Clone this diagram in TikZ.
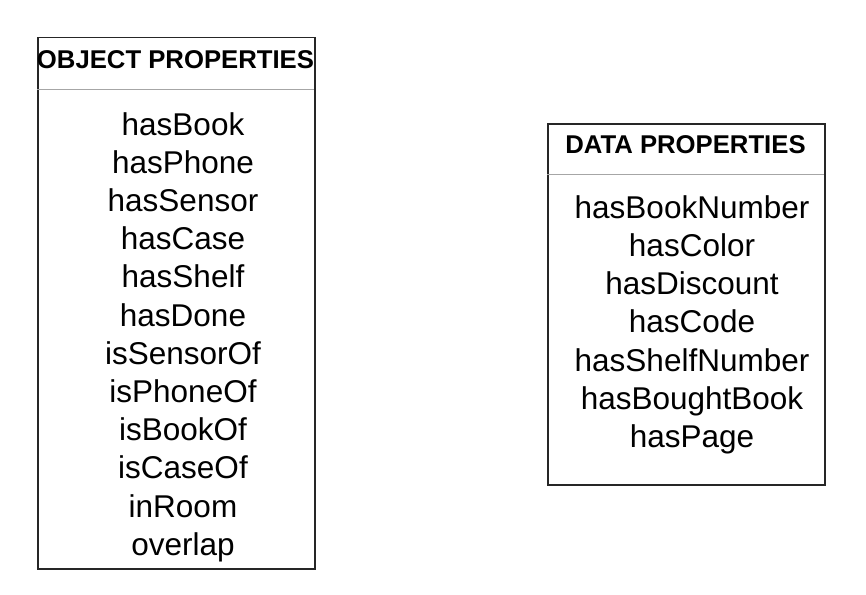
\documentclass[tikz,border=0pt]{standalone}
\usepackage{fontspec}
\setmainfont{Liberation Sans}
\begin{document}
\begin{tikzpicture}[x=1pt,y=-1pt,
  frame/.style={draw=black!85, line width=1.5pt, inner sep=0pt, anchor=north west},
  sepline/.style={draw=black!35, line width=1pt},
  head/.style={font=\fontsize{25.7}{30}\selectfont\bfseries, anchor=base, inner sep=0pt},
  item/.style={font=\fontsize{31.5}{37}\selectfont, anchor=base, inner sep=0pt}]
\useasboundingbox (0,0) rectangle (866,594);
% left box
\node[frame, minimum width=277pt, minimum height=531pt] (objbox) at (37,37) {};
\coordinate (objsepL) at (37,89);
\coordinate (objsepR) at (314,89);
\draw[sepline] (objsepL) -- (objsepR);
\node[head] (objtitle) at (175.5,68) {OBJECT PROPERTIES};
\foreach \t [count=\i from 0] in {hasBook,hasPhone,hasSensor,hasCase,hasShelf,hasDone,isSensorOf,isPhoneOf,isBookOf,isCaseOf,inRoom,overlap}
  \node[item] (obj\i) at (183,135+38.2*\i) {\t};
% right box
\node[frame, minimum width=277pt, minimum height=361pt] (databox) at (547,123) {};
\coordinate (datsepL) at (547,174);
\coordinate (datsepR) at (824,174);
\draw[sepline] (datsepL) -- (datsepR);
\node[head] (dattitle) at (685.5,153) {DATA PROPERTIES};
\foreach \t [count=\i from 0] in {hasBookNumber,hasColor,hasDiscount,hasCode,hasShelfNumber,hasBoughtBook,hasPage}
  \node[item] (dat\i) at (692,218+38.3*\i) {\t};
\end{tikzpicture}
\end{document}
